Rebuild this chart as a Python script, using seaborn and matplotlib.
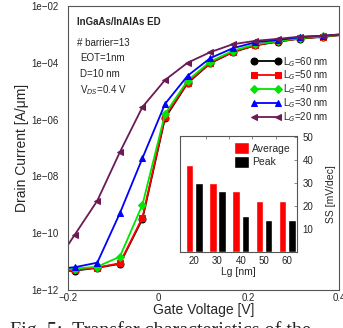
import numpy as np
import pandas as pd
import matplotlib
matplotlib.use('Agg')
import matplotlib.pyplot as plt
import seaborn as sns

sns.set_style('white')
plt.rcParams['font.family'] = ['Liberation Sans', 'DejaVu Sans']

# gate voltage points (first and last sit just outside the axes)
vg = [-0.235, -0.185, -0.135, -0.085, -0.035, 0.015, 0.065, 0.115, 0.165, 0.215, 0.265, 0.315, 0.365, 0.415]

# log10 of drain current [A/um]
lg60 = [-11.35, -11.32, -11.22, -11.08, -9.50, -5.95, -4.72, -4.02, -3.63, -3.39, -3.26, -3.15, -3.09, -3.01]
lg50 = [-11.33, -11.30, -11.21, -11.06, -9.45, -5.90, -4.70, -4.00, -3.62, -3.38, -3.25, -3.14, -3.08, -3.00]
lg40 = [-11.28, -11.25, -11.18, -10.83, -9.00, -5.80, -4.63, -3.96, -3.58, -3.35, -3.24, -3.13, -3.07, -3.00]
lg30 = [-11.27, -11.20, -11.04, -9.30, -7.36, -5.45, -4.46, -3.84, -3.49, -3.28, -3.20, -3.10, -3.05, -2.99]
lg20 = [-11.26, -10.06, -8.86, -7.15, -5.56, -4.61, -4.00, -3.63, -3.35, -3.23, -3.16, -3.08, -3.05, -2.99]

# inset: subthreshold swing [mV/dec]
lg_nm = ['20', '30', '40', '50', '60']
ss_avg = [37.8, 30.0, 26.5, 22.1, 22.1]
ss_peak = [30.0, 26.8, 15.5, 14.1, 14.1]

series = [
    ('L$_G$=60 nm', lg60, 'black', 'o'),
    ('L$_G$=50 nm', lg50, '#ff0000', 's'),
    ('L$_G$=40 nm', lg40, '#00e600', 'D'),
    ('L$_G$=30 nm', lg30, '#0000ff', '^'),
    ('L$_G$=20 nm', lg20, '#6b1a55', '<'),
]

fig = plt.figure(figsize=(3.43, 3.28), dpi=100)
ax = fig.add_axes([0.198, 0.116, 0.79, 0.866])

for label, vals, col, mk in series:
    ms = 4 if mk == 'D' else 5
    sns.lineplot(x=vg, y=10.0 ** np.array(vals), ax=ax, color=col, marker=mk,
                 markersize=ms, markeredgecolor=col, linewidth=1.3, label=label)

ax.set_yscale('log')
ax.set_xlim(-0.2, 0.4)
ax.set_ylim(1e-12, 1e-2)
ax.set_xticks([-0.2, -0.1, 0, 0.1, 0.2, 0.3, 0.4])
ax.set_xticklabels(['\u22120.2', '', '0', '', '0.2', '', '0.4'])
ax.set_yticks([1e-12, 1e-10, 1e-8, 1e-6, 1e-4, 1e-2])
ax.set_yticklabels(['1e\u221212', '1e\u221210', '1e\u221208', '1e\u221206', '1e\u221204', '1e\u221202'])
ax.yaxis.set_minor_locator(matplotlib.ticker.NullLocator())
ax.tick_params(direction='in', length=3, width=0.6, color='#777777', labelsize=7, pad=2)
ax.tick_params(axis='y', pad=7)
for s in ax.spines.values():
    s.set_color('#555555')
    s.set_linewidth(0.8)
ax.set_xlabel('Gate Voltage [V]', fontsize=10, labelpad=0)
ax.set_ylabel('Drain Current [A/\u03bcm]', fontsize=10, labelpad=1)

ax.legend(loc='upper left', bbox_to_anchor=(0.67, 0.835), frameon=False, fontsize=7,
          numpoints=2, handlelength=3.0, handletextpad=0.3, labelspacing=0.0,
          borderaxespad=0.0, borderpad=0.2)

ax.text(0.035, 0.945, 'InGaAs/InAlAs ED', transform=ax.transAxes, fontsize=7,
        fontweight='bold', va='center')
ax.text(0.035, 0.87, '# barrier=13', transform=ax.transAxes, fontsize=7, va='center')
ax.text(0.045, 0.815, 'EOT=1nm', transform=ax.transAxes, fontsize=7, va='center')
ax.text(0.045, 0.76, 'D=10 nm', transform=ax.transAxes, fontsize=7, va='center')
ax.text(0.045, 0.705, 'V$_{DS}$=0.4 V', transform=ax.transAxes, fontsize=7, va='center')

# inset bar chart
ins = fig.add_axes([0.525, 0.232, 0.341, 0.353])
bars = pd.DataFrame({
    'Lg': lg_nm * 2,
    'SS': ss_avg + ss_peak,
    'kind': ['Average'] * 5 + ['Peak'] * 5,
})
sns.barplot(data=bars, x='Lg', y='SS', hue='kind', palette=['#ff0000', 'black'],
            width=0.8, gap=0.2, ax=ins, saturation=1)
ins.set_xlim(-0.61, 4.42)
ins.set_ylim(0, 50.6)
ins.yaxis.tick_right()
ins.yaxis.set_label_position('right')
ins.set_yticks([10, 20, 30, 40, 50])
ins.set_xticks([0.5, 1.5, 2.5, 3.5], minor=True)
ins.tick_params(which='both', direction='in', length=2.5, width=0.6, color='#777777',
                labelsize=7, pad=4, top=True, bottom=False, right=True, left=False)
ins.tick_params(axis='x', which='major', length=0, pad=3)
ins.tick_params(axis='x', which='minor', bottom=False)
for s in ins.spines.values():
    s.set_color('#555555')
    s.set_linewidth(0.8)
ins.set_xlabel('Lg [nm]', fontsize=7.5, labelpad=1)
ins.set_ylabel('SS [mV/dec]', fontsize=7.5, labelpad=9)
ins.legend(loc='upper right', frameon=False, fontsize=7.5, handlelength=1.4,
           handleheight=1.3, handletextpad=0.3, labelspacing=0.25, borderaxespad=0.2)

fig.text(0.03, 0.02, 'Fig. 5:  Transfer characteristics of the', family='Liberation Serif',
         fontsize=14.5, va='top')

fig.savefig('out.png', dpi=100)
